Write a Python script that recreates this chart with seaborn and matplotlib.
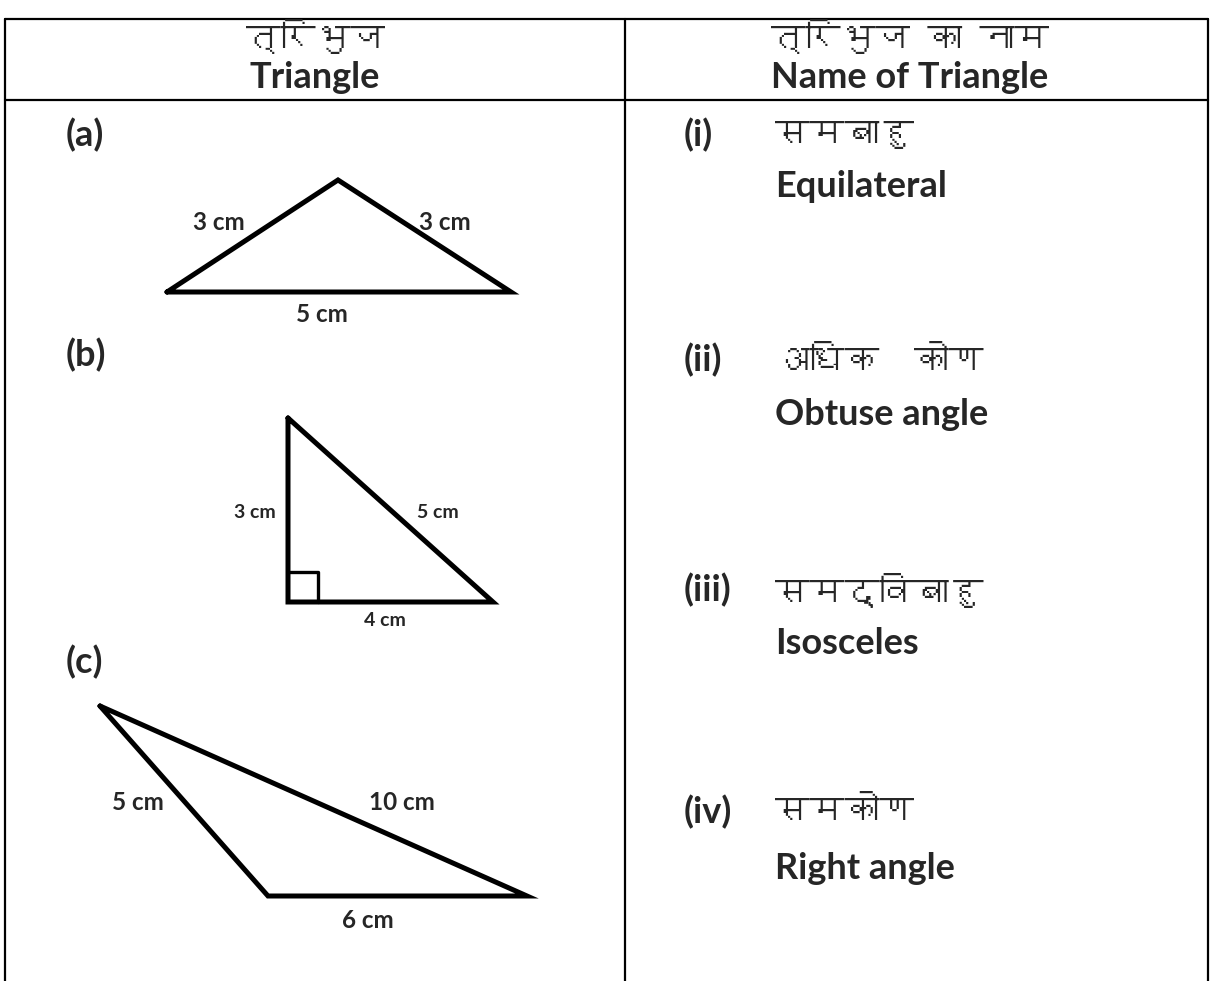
import numpy as np
import matplotlib
matplotlib.use("Agg")
import matplotlib.pyplot as plt
import seaborn as sns
from matplotlib import font_manager
from matplotlib.ft2font import FT2Font

# ---- data ----
header_hi = ["त्रिभुज", "त्रिभुज का नाम"]
header_en = ["Triangle", "Name of Triangle"]
header_x = [315, 910]

tri_labels = ["(a)", "(b)", "(c)"]
tri_label_y = [135, 355, 662]

# triangle vertices (drawing units = pixels of the page)
tri_a_x = [167, 338, 511, 167]
tri_a_y = [292, 180, 292, 292]
tri_b_x = [288, 288, 493, 288]
tri_b_y = [418, 602, 602, 418]
tri_c_x = [100, 268, 527, 100]
tri_c_y = [706, 896, 896, 706]

side_text = ["3 cm", "3 cm", "5 cm", "3 cm", "5 cm", "4 cm", "5 cm", "10 cm", "6 cm"]
side_x = [219, 445, 322, 255, 438, 385, 138, 402, 368]
side_y = [222, 222, 315, 512, 512, 620, 802, 802, 920]
side_size = [17.5, 17.5, 17.5, 14, 14, 14, 17.5, 17.5, 17.5]

name_num = ["(i)", "(ii)", "(iii)", "(iv)"]
name_hi = ["समबाहु", "अधिक  कोण", "समद्विबाहु", "समकोण"]
name_en = ["Equilateral", "Obtuse angle", "Isosceles", "Right angle"]
name_row_y = [135, 360, 590, 812]
name_base_en = [197, 425, 654, 879]


def find_deva_font():
    for f in font_manager.fontManager.ttflist:
        try:
            ft = FT2Font(f.fname)
            if ft.get_char_index(0x0915) and ft.get_char_index(0x092E):
                return f.name
        except Exception:
            pass
    return None


sns.set_theme(style="white")
plt.rcParams['font.family'] = ['Lato', 'DejaVu Sans']

deva = find_deva_font()
hi_family = [deva, 'DejaVu Sans'] if deva else ['DejaVu Sans']
en_family = ['Lato', 'DejaVu Sans']
big = 26
hi_size = 25

fig = plt.figure(figsize=(12.1, 9.81), dpi=100)
ax = fig.add_axes([0, 0, 1, 1])
ax.set_xlim(0, 1210)
ax.set_ylim(981, 0)
ax.axis('off')

# table frame
lw = 1.6
ax.plot([5, 1208], [19, 19], color='black', lw=lw)
ax.plot([5, 1208], [100, 100], color='black', lw=lw)
ax.plot([5, 5], [19, 981], color='black', lw=lw)
ax.plot([1208, 1208], [19, 981], color='black', lw=lw)
ax.plot([625, 625], [19, 981], color='black', lw=lw)

# header
for x, h, e in zip(header_x, header_hi, header_en):
    ax.text(x, 37, h, ha='center', va='center', fontsize=hi_size, family=hi_family)
    ax.text(x, 88, e, ha='center', va='baseline', fontsize=big, family=en_family, fontweight='bold')

# triangles
for xs, ys in [(tri_a_x, tri_a_y), (tri_b_x, tri_b_y), (tri_c_x, tri_c_y)]:
    sns.lineplot(x=xs, y=ys, sort=False, estimator=None, color='black', lw=3.6, ax=ax,
                 solid_joinstyle='miter', solid_capstyle='round')

# right-angle mark on (b)
sq = 30
ax.plot([tri_b_x[1], tri_b_x[1] + sq, tri_b_x[1] + sq],
        [tri_b_y[1] - sq, tri_b_y[1] - sq, tri_b_y[1]], color='black', lw=2.4)

for lab, y in zip(tri_labels, tri_label_y):
    ax.text(66, y, lab, ha='left', va='center', fontsize=big, family=en_family, fontweight='bold')

for t, x, y, s in zip(side_text, side_x, side_y, side_size):
    ax.text(x, y, t, ha='center', va='center', fontsize=s, family=en_family, fontweight='bold')

# names column
for num, h, e, yr, ye in zip(name_num, name_hi, name_en, name_row_y, name_base_en):
    ax.text(684, yr, num, ha='left', va='center', fontsize=big, family=en_family, fontweight='bold')
    ax.text(775, yr, h, ha='left', va='center', fontsize=hi_size, family=hi_family)
    ax.text(775, ye, e, ha='left', va='baseline', fontsize=big, family=en_family, fontweight='bold')

fig.savefig('out.png', dpi=100, facecolor='white')
plt.close(fig)
